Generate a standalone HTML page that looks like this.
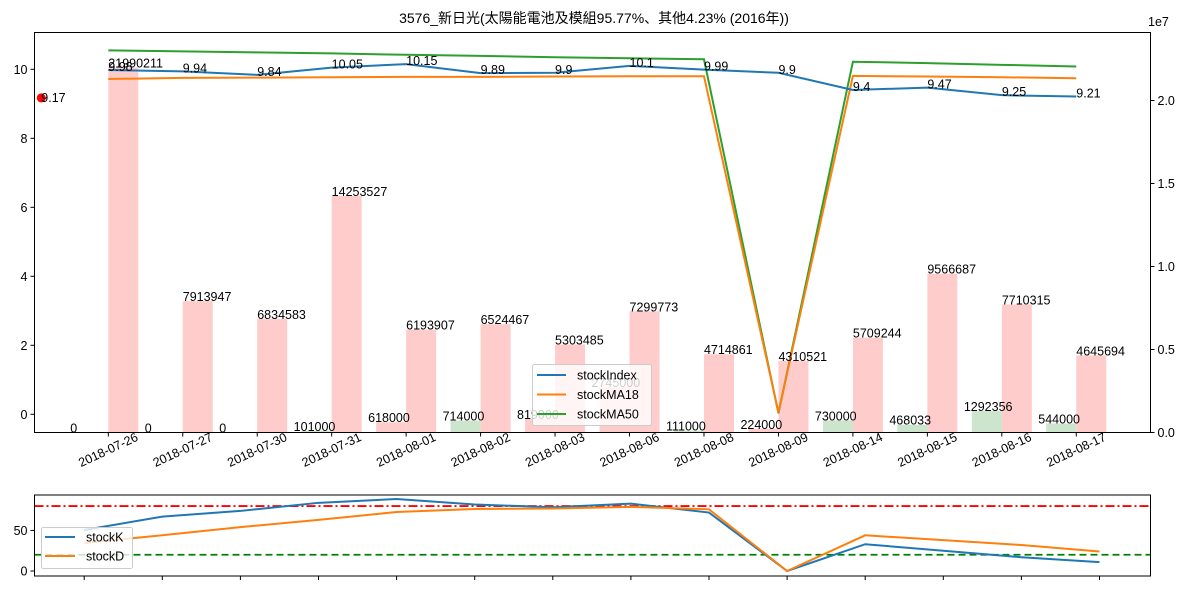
<!DOCTYPE html>
<html><head><meta charset="utf-8"><style>
html,body{margin:0;padding:0;background:#fff;}
svg{display:block;font-family:"Liberation Sans","WenQuanYi Zen Hei",sans-serif;}
</style></head><body>
<svg id="c" width="1189" height="589" viewBox="0 0 1189 589" xmlns="http://www.w3.org/2000/svg"></svg>
<script>
const dates=["2018-07-26","2018-07-27","2018-07-30","2018-07-31","2018-08-01","2018-08-02","2018-08-03","2018-08-06","2018-08-08","2018-08-09","2018-08-14","2018-08-15","2018-08-16","2018-08-17"];
const stockIndex=[9.98,9.94,9.84,10.05,10.15,9.89,9.9,10.1,9.99,9.9,9.4,9.47,9.25,9.21];
const stockMA18=[9.72,9.75,9.76,9.77,9.78,9.78,9.79,9.8,9.8,0.05,9.81,9.79,9.77,9.74];
const stockMA50=[10.55,10.52,10.49,10.46,10.42,10.39,10.35,10.32,10.29,0.03,10.22,10.18,10.13,10.08];
const volBuy=[21990211,7913947,6834583,14253527,6193907,6524467,5303485,7299773,4714861,4310521,5709244,9566687,7710315,4645694];
const volSell=[0,0,0,101000,618000,714000,819000,2745000,111000,224000,730000,468033,1292356,544000];
const sellUp=[0,0,0,0,1,0,1,1,0,1,0,0,0,0];
const stockK=[50.5,67,74,84,88.7,82,78.5,83,72,0,33,25,17,11];
const stockD=[34.5,44,54,63,72.7,76.4,77,79,76,0,44,38,32,24];
const lastClose=9.17;
const leftTicks=[0,2,4,6,8,10];
const rightTicks=["0.0","0.5","1.0","1.5","2.0"];
const kdTicks=[0,50];

const NS="http://www.w3.org/2000/svg";
const svg=document.getElementById('c');
function el(tag,attrs,parent){const e=document.createElementNS(NS,tag);for(const k in attrs)e.setAttribute(k,attrs[k]);(parent||svg).appendChild(e);return e;}
const L=34.5,R=1150.5,T=32.5,B=432.5;
const xm=i=>108.3+74.46*i;
const yl=v=>414.3-34.5*v;
const yr=v=>432.5-v*16.6/1e6;
const xk=i=>84.2+78.1*i;
const KT=495,KB=576;
const yk=v=>571-0.8117*v;

// title
let t=el('text',{x:594,y:23,'text-anchor':'middle','font-size':14,fill:'#000'});
t.textContent="3576_新日光(太陽能電池及模組95.77%、其他4.23% (2016年))";


const gBars=el('g',{});

volBuy.forEach((v,i)=>{
  const r=el('rect',{x:xm(i),y:yr(v),width:30,height:B-yr(v),fill:'#ffcccc'},gBars);
  
});
volSell.forEach((v,i)=>{
  const r=el('rect',{x:xm(i)-30,y:yr(v),width:30,height:B-yr(v),fill:sellUp[i]?'#ffcccc':'#cce5cc'},gBars);
  
});

function line(vals,xf,yf,color,name,w){
  const p=el('polyline',{points:vals.map((v,i)=>xf(i)+','+yf(v)).join(' '),fill:'none',stroke:color,'stroke-width':w||2});
  
}
line(stockMA50,xm,yl,'#2ca02c','ma50-line');
line(stockMA18,xm,yl,'#ff7f0e','ma18-line');
line(stockIndex,xm,yl,'#1f77b4','stock-index-line');

function txt(x,y,s,name,opts){const e=el('text',Object.assign({x:x,y:y,'font-size':12.5,fill:'#000'},opts||{}));e.textContent=s;return e;}
volBuy.forEach((v,i)=>txt(xm(i),yr(v),String(v),'buy-volume-label'));
volSell.forEach((v,i)=>txt(xm(i)-38,yr(v),String(v),'sell-volume-label'));
stockIndex.forEach((v,i)=>txt(xm(i),yl(v)+1,String(v),'stock-index-label'));

const dot=el('circle',{cx:xm(-0.9),cy:yl(lastClose),r:4.5,fill:'red'});

txt(xm(-0.9),yl(lastClose)+4,String(lastClose),'last-close-label');

// main axes frame
el('rect',{x:L,y:T,width:R-L,height:B-T,fill:'none',stroke:'#000','stroke-width':1});
leftTicks.forEach(v=>{el('line',{x1:L-4,x2:L,y1:yl(v),y2:yl(v),stroke:'#000'});txt(L-7,yl(v)+4.5,String(v),'left-y-tick',{'text-anchor':'end'});});
rightTicks.forEach(s=>{const y=yr(parseFloat(s)*1e7);el('line',{x1:R,x2:R+4,y1:y,y2:y,stroke:'#000'});txt(R+7,y+4.5,s,'right-y-tick');});
txt(1148,26,'1e7','right-axis-offset');
dates.forEach((d,i)=>{
  el('line',{x1:xm(i),x2:xm(i),y1:B,y2:B+4,stroke:'#000'});
  const e=txt(0,0,d,'x-tick-label',{'text-anchor':'middle','dominant-baseline':'central',transform:`translate(${xm(i)},450) rotate(-25)`});
});

// main legend
const lg=el('g',{});
el('rect',{x:532.5,y:364.5,width:119,height:61,fill:'#fff','fill-opacity':0.8,stroke:'#ccc',rx:2},lg);
[['stockIndex','#1f77b4'],['stockMA18','#ff7f0e'],['stockMA50','#2ca02c']].forEach((e,k)=>{
  const y=375+19.5*k;
  el('line',{x1:537,x2:566,y1:y,y2:y,stroke:e[1],'stroke-width':2},lg);
  const tt=el('text',{x:577,y:y+4.5,'font-size':12.5,fill:'#000'},lg);tt.textContent=e[0];
  
});

// KD axes
el('line',{x1:L,x2:R,y1:yk(80),y2:yk(80),stroke:'red','stroke-width':1.8,'stroke-dasharray':'9,3,2,3'});
el('line',{x1:L,x2:R,y1:yk(20),y2:yk(20),stroke:'green','stroke-width':1.8,'stroke-dasharray':'7,4'});
line(stockK,xk,yk,'#1f77b4','stock-k-line');
line(stockD,xk,yk,'#ff7f0e','stock-d-line');
el('rect',{x:L,y:KT,width:R-L,height:KB-KT,fill:'none',stroke:'#000'});
kdTicks.forEach(v=>{el('line',{x1:L-4,x2:L,y1:yk(v),y2:yk(v),stroke:'#000'});txt(L-7,yk(v)+4.5,String(v),'kd-y-tick',{'text-anchor':'end'});});
dates.forEach((d,i)=>el('line',{x1:xk(i),x2:xk(i),y1:KB,y2:KB+4,stroke:'#000'}));
const lg2=el('g',{});
el('rect',{x:41.5,y:527.5,width:91,height:41,fill:'#fff','fill-opacity':0.8,stroke:'#ccc',rx:2},lg2);
[['stockK','#1f77b4'],['stockD','#ff7f0e']].forEach((e,k)=>{
  const y=537+19*k;
  el('line',{x1:45,x2:75,y1:y,y2:y,stroke:e[1],'stroke-width':2},lg2);
  const tt=el('text',{x:86,y:y+4.5,'font-size':12.5,fill:'#000'},lg2);tt.textContent=e[0];
  
});
</script>
</body></html>
